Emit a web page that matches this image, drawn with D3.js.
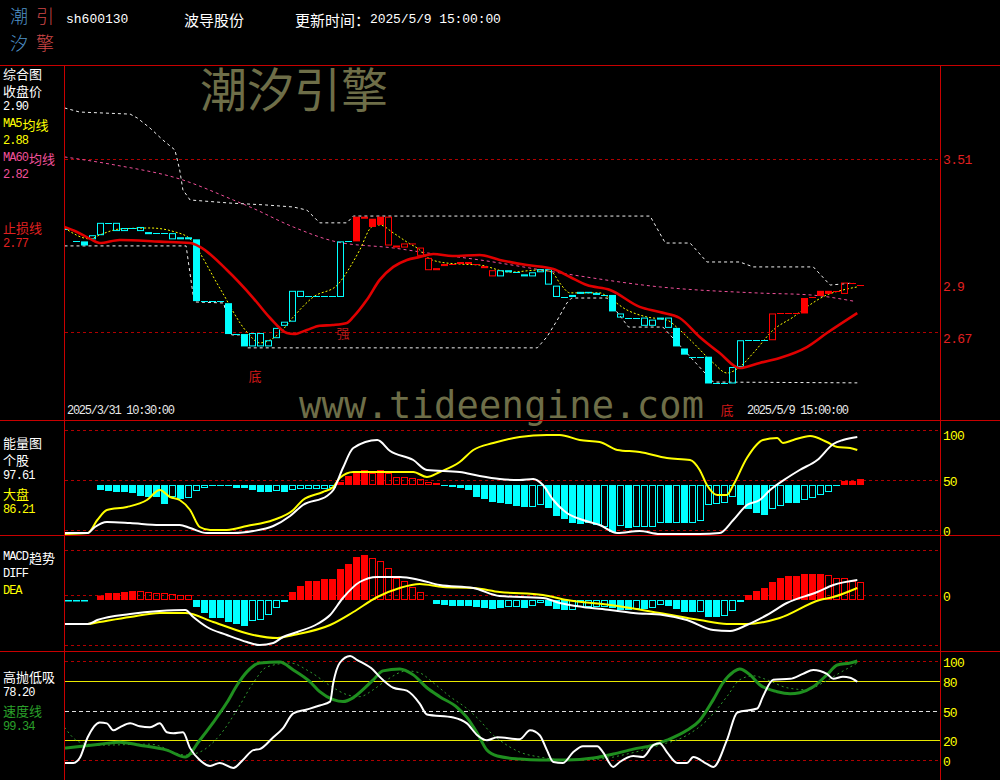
<!DOCTYPE html>
<html><head><meta charset="utf-8">
<script src="https://cdn.jsdelivr.net/npm/d3@7"></script>
<style>html,body{margin:0;padding:0;background:#000;}svg{display:block;}</style>
</head><body>
<svg id="c" width="1000" height="780"></svg>
<script>
// ---------------- DATA ----------------
const stockCode = "sh600130";
const stockName = "波导股份";
const updateTime = "2025/5/9 15:00:00";
const firstBarTime = "2025/3/31 10:30:00";
const lastBarTime = "2025/5/9 15:00:00";

// 60-minute bars: open / close
const barOpen = [3.17,3.11,3.11,3.12,3.14,3.20,3.16,3.16,3.175,3.16,
 3.155,3.15,3.15,3.12,3.12,3.13,3.12,2.82,2.82,2.82,
 2.81,2.66,2.66,2.60,2.60,2.60,2.64,2.70,2.72,2.84,
 2.845,2.845,2.845,2.845,2.84,3.11,3.11,3.22,3.18,3.19,
 3.23,3.08,3.10,3.095,3.08,3.03,2.98,3.00,3.00,3.00,
 3.00,3.00,2.98,2.97,2.94,2.96,2.96,2.94,2.94,2.96,
 2.975,2.895,2.84,2.85,2.855,2.86,2.85,2.85,2.85,2.76,
 2.74,2.74,2.74,2.70,2.73,2.74,2.69,2.59,2.55,2.55,
 2.55,2.42,2.42,2.42,2.50,2.63,2.63,2.63,2.63,2.76,
 2.76,2.76,2.76,2.835,2.845,2.855,2.87,2.855,2.91,2.90];
const barClose = [3.17,3.11,3.09,3.14,3.20,3.20,3.20,3.175,3.175,3.18,
 3.145,3.15,3.15,3.15,3.13,3.12,2.82,2.82,2.82,2.82,
 2.66,2.66,2.60,2.665,2.665,2.63,2.69,2.72,2.87,2.87,
 2.845,2.845,2.845,2.845,3.11,3.11,3.23,3.23,3.22,3.23,
 3.09,3.09,3.08,3.10,3.04,2.97,2.97,2.99,3.00,3.01,
 3.01,3.00,2.99,2.94,2.97,2.97,2.96,2.95,2.96,2.975,
 2.90,2.84,2.84,2.84,2.865,2.865,2.86,2.85,2.77,2.74,
 2.74,2.74,2.70,2.73,2.74,2.69,2.60,2.56,2.55,2.55,
 2.42,2.42,2.42,2.50,2.63,2.63,2.63,2.63,2.76,2.76,
 2.76,2.76,2.835,2.84,2.87,2.87,2.87,2.91,2.91,2.90];
// trend state per bar (1 = strong / red regime, 0 = weak / cyan regime)
const barTrend = [0,0,0,0,0,0,0,0,0,0, 0,0,0,0,0,0,0,0,0,0, 0,0,0,0,0,0,0,0,0,0,
 0,0,0,0,0,0,1,1,1,1, 1,1,1,1,1,1,1,1,1,1, 1,1,1,1,0,0,0,0,0,0,
 0,0,0,0,0,0,0,0,0,0, 0,0,0,0,0,0,0,0,0,0, 0,0,0,0,0,0,0,0,1,1,
 1,1,1,1,1,1,1,1,1,1];
// momentum-confirmed bar flag
const barSignal = [0,0,1,0,0,0,0,0,0,0, 1,0,0,0,0,1,1,0,0,0, 1,0,1,0,0,0,0,0,0,0,
 0,0,0,0,0,0,1,1,1,1, 0,1,0,1,0,0,0,0,0,1, 1,0,1,0,0,0,0,0,0,0,
 0,0,0,1,0,0,0,0,1,0, 0,0,0,0,0,0,1,1,0,0, 1,0,0,0,0,0,0,0,0,0,
 0,0,1,1,1,1,0,0,0,0];

// main panel lines [bar index, price]
const stopLine = [[-0.5,3.18],[1,3.157],[2.7,3.122],[3.9,3.102],[6.4,3.117],[11.4,3.109],[15.2,3.102],[16.4,3.084],[19.8,2.971],[23.1,2.835],[25.2,2.738],[27.3,2.665],[28.2,2.66],[29.8,2.68],[31.4,2.70],[33,2.704],[34.8,2.714],[35.6,2.743],[37.3,2.826],[38.9,2.923],[40.6,2.986],[42.3,3.02],[43.9,3.034],[45.6,3.049],[48,3.039],[51.4,3.044],[53.9,3.02],[57.3,2.995],[60.6,2.976],[62.7,2.937],[64.8,2.898],[67.7,2.874],[71.4,2.792],[73.9,2.767],[76.4,2.738],[78.9,2.646],[81.4,2.568],[83.9,2.495],[86.4,2.52],[88.9,2.544],[92.3,2.597],[94.8,2.665],[98.6,2.762]];
const ma5Line = [[-0.5,3.175],[2.7,3.122],[3.9,3.141],[6.4,3.17],[10.2,3.175],[13.3,3.156],[15.2,3.122],[15.6,3.102],[18.9,2.884],[22.3,2.67],[23.9,2.617],[26.4,2.665],[28.1,2.743],[30.6,2.84],[33.6,2.898],[35.2,2.986],[36.4,3.068],[37.9,3.18],[38.9,3.19],[40.6,3.151],[42.3,3.107],[43.9,3.068],[44.8,3.034],[46.4,3.01],[48.9,3.0],[51.4,2.995],[55.2,2.961],[58.9,2.971],[60.4,2.961],[61.4,2.908],[62.7,2.86],[66.4,2.86],[67.4,2.84],[69.8,2.777],[72.3,2.743],[74.8,2.728],[76.4,2.68],[78.1,2.617],[80.6,2.52],[82.3,2.471],[83.9,2.5],[85.6,2.568],[88.1,2.68],[90.6,2.743],[92.3,2.792],[94.8,2.85],[96.8,2.874],[98.6,2.889]];
const ma60Line = [[-0.5,3.52],[5.8,3.481],[13.9,3.413],[20.6,3.311],[22.7,3.277],[28.1,3.18],[33.6,3.107],[40.6,3.078],[44.8,3.054],[51.4,3.02],[61.4,2.957],[73.9,2.889],[86.4,2.859],[92.7,2.85],[98.1,2.82]];
const upperBand = [[-0.5,3.758],[1.4,3.738],[7.7,3.728],[8.6,3.709],[10.2,3.66],[11.8,3.602],[13.3,3.554],[13.9,3.457],[14.3,3.36],[15.2,3.311],[20.2,3.296],[24.6,3.287],[28.1,3.277],[29.8,3.262],[31.4,3.2],[34.8,3.2],[35.6,3.233],[72.7,3.233],[74.6,3.102],[77.7,3.102],[79.8,3.01],[83.9,3.01],[85.6,2.986],[93.1,2.986],[95.2,2.898],[98.1,2.908]];
const lowerBand = [[-0.5,3.088],[14.7,3.088],[15.7,2.816],[19.4,2.811],[20.4,2.656],[21.4,2.656],[22.4,2.593],[58.6,2.593],[59.8,2.646],[61.1,2.728],[62.3,2.811],[62.9,2.835],[67.3,2.835],[68.1,2.791],[70,2.694],[74.3,2.694],[80.6,2.427],[98.6,2.423]];
const priceGrid = [3.51, 2.67];
const markText = ["底","强","底"];
const markBar = [23.3, 34.3, 82.3];
const markPrice = [2.461, 2.67, 2.292];

// energy panel
const volBars = [null,null,null,null,40,39,38,38,37,34, 33,33,26,33,31,32,39,42,44,44,
 44,42,42,40,38,38,39,38,40,41, 41,41,41,42,48,54,58,60,57,60,
 57,53,53,52,51,48,47,44,43,42, 40,33,31,28,27,26,24,23,23,25,
 22,14,11,7,6,7,5,3,-2,4, 2,3,3,3,7,7,7,7,7,9,
 25,26,27,33,25,21,17,15,21,24, 27,27,30,32,35,38,45,49,49,51];
const volSignal = [0,0,0,0,1,1,1,1,1,1, 1,1,1,0,1,0,0,0,1,1, 1,1,1,1,1,1,0,1,0,0,
 0,0,0,0,1,1,1,1,0,1, 0,0,0,0,0,0,0,1,1,1, 1,1,1,1,1,1,1,1,0,0,
 1,1,1,1,1,1,1,0,1,0, 1,0,0,0,0,1,0,1,0,0, 0,0,0,0,1,1,1,1,0,0,
 1,1,0,0,0,0,1,1,1,1];
const volStock = [[-0.5,-3],[2.4,-3],[3.3,3],[4.8,8],[7.7,7],[11.4,5],[13.9,5],[15.2,2],[17.3,-3],[20.6,-3],[23.1,-1],[25.6,4],[27.7,14],[29.3,25],[32.3,34],[33.1,40],[34.3,62],[35.6,82],[38.6,90],[40.2,79],[43.1,70],[44.8,60],[48.9,58],[51.4,54],[53.9,51],[56.4,50],[58.1,51],[59.3,45],[60.6,30],[62.3,17],[64.3,10],[66.4,5],[68.6,-3],[71.4,-1],[73.9,-4],[78.9,-4],[81.4,-3],[83.1,10],[84.8,25],[86.4,30],[87.7,40],[89.8,52],[91.4,60],[93.6,70],[95.6,86],[96.8,90],[98.6,93]];
const volMarket = [[-0.5,-4],[2.4,-3],[3.6,10],[4.8,20],[7.3,23],[9.8,30],[11.4,40],[12.7,33],[13.9,30],[15.2,20],[16.4,3],[17.7,0],[19.8,0],[22.3,4],[25.6,10],[28.1,20],[29.3,30],[31.8,38],[33.1,43],[33.9,52],[35.6,58],[38.9,58],[43.1,58],[44.8,53],[46.4,58],[48.9,68],[50.6,80],[53.1,87],[56.4,93],[59.8,95],[61.4,95],[63.9,90],[66.4,88],[68.6,80],[71.4,78],[74.8,72],[77.7,70],[78.9,60],[79.8,45],[81.1,35],[82.3,35],[83.1,45],[84.8,72],[86.8,90],[88.6,92],[89.3,87],[90.6,90],[92.7,94],[94.8,88],[96.1,83],[97.7,82],[98.6,80]];
const volTicks = [100, 50, 0];

// MACD panel
const macdBars = [-0.002,-0.002,-0.002,null,0.009,0.014,0.014,0.016,0.018,0.018,
 0.016,0.014,0.014,0.012,0.010,0.010,-0.014,-0.026,-0.036,-0.036,
 -0.044,-0.048,-0.052,-0.042,-0.040,-0.030,-0.016,-0.004,0.016,0.028,
 0.038,0.038,0.042,0.042,0.062,0.072,0.086,0.090,0.084,0.078,
 0.064,0.044,0.038,0.026,0.016,null,-0.008,-0.010,-0.012,-0.012,
 -0.012,-0.014,-0.016,-0.018,-0.016,-0.014,-0.014,-0.016,-0.012,-0.006,
 -0.012,-0.018,-0.020,-0.020,-0.014,-0.014,-0.014,-0.014,-0.016,-0.020,
 -0.020,-0.018,-0.018,-0.016,-0.010,-0.012,-0.018,-0.024,-0.024,-0.024,
 -0.034,-0.034,-0.032,-0.022,-0.004,0.010,0.018,0.024,0.036,0.044,
 0.048,0.048,0.052,0.052,0.052,0.050,0.044,0.044,0.038,0.036];
const macdSignal = [1,1,1,0,1,1,1,1,1,0, 0,0,0,0,0,0,1,1,1,1, 1,1,1,0,0,0,0,0,1,1,
 1,1,1,1,1,1,1,1,0,0, 0,0,0,0,0,0,1,1,1,1, 1,1,1,1,1,0,0,1,0,0,
 1,1,1,0,0,0,0,0,1,1, 1,0,1,0,0,1,1,1,1,0, 1,1,0,0,1,1,1,1,1,1,
 1,1,1,1,1,0,0,0,0,0];
const diffLine = [[-0.5,-0.058],[2.4,-0.058],[3.6,-0.05],[7.7,-0.038],[11.4,-0.032],[14.6,-0.03],[15.6,-0.044],[17.3,-0.064],[19.8,-0.08],[22.3,-0.094],[23.9,-0.1],[25.6,-0.096],[26.8,-0.084],[28.6,-0.074],[31.1,-0.058],[32.7,-0.04],[34.3,-0.006],[36.4,0.026],[38.6,0.036],[41.4,0.036],[43.9,0.03],[46.4,0.02],[50.6,0.014],[53.9,-0.002],[59.3,-0.006],[61.4,-0.016],[64.3,-0.024],[67.7,-0.03],[70.6,-0.036],[74.3,-0.04],[77.3,-0.05],[80.6,-0.07],[82.7,-0.072],[84.8,-0.06],[87.3,-0.04],[89.8,-0.016],[93.6,0.006],[95.6,0.02],[98.6,0.03]];
const deaLine = [[-0.5,-0.058],[2.4,-0.058],[3.9,-0.054],[7.7,-0.044],[11.4,-0.036],[14.6,-0.036],[18.1,-0.054],[23.1,-0.08],[26.1,-0.086],[28.1,-0.08],[32.7,-0.06],[35.6,-0.034],[38.6,-0.004],[41.4,0.014],[43.9,0.022],[46.8,0.016],[50.6,0.014],[53.9,0.006],[59.3,0],[62.3,-0.01],[67.7,-0.02],[73.9,-0.036],[78.9,-0.05],[82.3,-0.058],[84.8,-0.058],[88.9,-0.046],[93.9,-0.01],[95.6,-0.004],[98.6,0.014]];
const macdGrid = [0.09, 0, -0.1];

// swing panel
const swingLine = [[-0.5,-3],[0.6,-3],[1.4,2],[2.4,23],[3.9,38],[4.8,37],[5.6,30],[6.4,33],[7.7,37],[8.9,34],[10.2,33],[11.4,37],[12.3,28],[13.1,27],[14.3,28],[15.2,12],[16.4,0],[17.7,-6],[18.9,-3],[20.6,-8],[21.8,0],[23.1,10],[23.9,11],[25.6,23],[26.8,32],[28.1,47],[29.8,51],[31.4,55],[32.7,59],[33.1,78],[33.9,98],[35.2,105],[36.1,101],[38.1,91],[38.9,84],[40.6,73],[42.3,70],[43.9,57],[44.8,46],[48.1,43],[49.8,37],[51.1,25],[52.3,20],[53.6,23],[56.4,21],[57.7,30],[58.9,25],[59.8,10],[60.6,-2],[61.8,-3],[63.1,8],[64.3,14],[66.1,14],[66.8,8],[68.1,-7],[68.9,-2],[70.6,4],[71.8,3],[73.1,15],[73.9,17],[74.8,8],[76.1,-3],[77.3,-3],[78.1,3],[79.8,-4],[80.6,-7],[82.3,20],[83.6,48],[86.1,52],[86.8,64],[88.1,81],[90.2,82],[91.8,87],[93.1,91],[94.8,87],[95.6,82],[96.8,84],[97.7,83],[98.6,79]];
const speedLine = [[-0.5,12],[3.9,16],[6.4,18],[8.9,15],[12.3,10],[14.6,3],[16.4,20],[18.1,38],[19.8,58],[21.1,76],[22.3,89],[23.9,98],[26.4,99],[28.1,91],[30.2,79],[31.4,69],[33.1,61],[34.3,59],[35.6,63],[36.8,71],[38.1,81],[39.3,90],[41.4,92],[43.1,86],[44.8,73],[46.4,64],[48.6,53],[49.8,43],[51.1,27],[52.3,10],[53.6,4],[56.4,1],[58.9,0],[62.3,0],[65.6,2],[68.1,6],[70.6,11],[73.1,15],[74.8,20],[77.3,30],[78.9,40],[80.6,61],[81.8,78],[83.1,89],[83.9,92],[85.2,86],[86.4,76],[88.6,69],[90.2,67],[91.4,68],[93.1,74],[94.8,86],[96.1,96],[97.7,98],[98.6,100]];
const speedSlow = [[-0.5,33],[1.4,18],[3.9,15],[10.2,16],[14.6,5],[16.4,8],[18.9,25],[21.1,51],[23.1,78],[24.8,94],[27.7,98],[30.2,89],[33.1,73],[34.8,66],[36.4,64],[38.1,71],[39.8,81],[42.3,90],[43.9,88],[45.6,78],[47.7,64],[49.8,52],[51.4,40],[53.1,25],[53.9,20],[56.4,8],[58.9,3],[62.3,0],[66.4,1],[69.8,6],[73.9,15],[77.3,25],[79.8,40],[82.3,64],[83.9,81],[85.6,85],[87.3,81],[89.8,73],[92.3,71],[94.3,78],[96.4,88],[98.6,98]];
const swingTicks = [100, 80, 50, 20, 0];

// legends
const mainLegend = ["综合图","收盘价","2.90","MA5均线","2.88","MA60均线","2.82"];
const stopLegend = ["止损线","2.77"];
const volLegend = ["能量图","个股","97.61","大盘","86.21"];
const macdLegend = ["MACD趋势","DIFF","DEA"];
const swingLegend = ["高抛低吸","78.20","速度线","99.34"];

// ---------------- DRAW ----------------
const svg = d3.select('#c');
const L = 64, R = 940;
const RED = '#ff0000', CYAN = '#00ffff', YEL = '#ffff00', PINK = '#f0509a',
      GRID = '#b00000', FRAME = '#c80000', GREEN = '#1f8f1f', WM = '#6e6e48';
const CJK = '"Noto Sans CJK SC", sans-serif', MONO = '"Liberation Mono", "DejaVu Sans Mono", monospace';

svg.append('rect').attr('width',1000).attr('height',780).attr('fill','#000');

const x = d3.scaleLinear().domain([0, 99]).range([68.5, 860.5]);
const yP = d3.scaleLinear().domain([2.67, 3.51]).range([332, 159]);
const yV = d3.scaleLinear().domain([0, 100]).range([530, 430]);
const yM = d3.scaleLinear().domain([0, 0.09]).range([595, 550]);
const yS = d3.scaleLinear().domain([0, 100]).range([760, 661]);

// mixed-script text: ASCII runs in a mono face, CJK runs in Noto Sans CJK, each run placed explicitly
function mixText(g, px, py, str, color, o = {}) {
  const cjk = o.cjk || 13, asc = o.asc || 12, adv = o.adv || 6.5;
  const t = g.append('text').attr('y', py).attr('fill', color).attr('dominant-baseline', 'central');
  const runs = str.match(/[\u0000-\u00ff]+|[^\u0000-\u00ff]+/g) || [];
  let cx = px;
  runs.forEach(r => {
    const a = /^[\u0000-\u00ff]/.test(r);
    const w = a ? r.length * adv : r.length * cjk;
    t.append('tspan').text(r).attr('x', cx).attr('font-family', a ? MONO : CJK)
      .attr('font-size', a ? asc : cjk)
      .attr('textLength', w).attr('lengthAdjust', 'spacing');
    cx += w;
  });
  return t;
}
function hline(y, color, dash, x1 = L + 1, x2 = R) {
  svg.append('line').attr('x1', x1).attr('x2', x2).attr('y1', Math.round(y) + 0.5).attr('y2', Math.round(y) + 0.5)
    .attr('stroke', color).attr('stroke-width', 1).attr('stroke-dasharray', dash || null);
}
function drawLine(data, ys, color, w, dash, curve) {
  svg.append('path').datum(data)
    .attr('d', d3.line().x(d => x(d[0])).y(d => ys(d[1])).curve(curve || d3.curveMonotoneX))
    .attr('fill', 'none').attr('stroke', color).attr('stroke-width', w)
    .attr('stroke-dasharray', dash || null).attr('stroke-linejoin', 'round');
}

// watermarks
svg.append('text').attr('x', 200).attr('y', 86).attr('dominant-baseline', 'central')
  .attr('font-family', CJK).attr('font-size', 47).attr('fill', WM).text('潮汐引擎');
svg.append('text').attr('x', 299).attr('y', 418)
  .attr('font-family', '"DejaVu Sans Mono", monospace').attr('font-size', 37).attr('fill', WM)
  .attr('textLength', 405).attr('lengthAdjust', 'spacing').text('www.tideengine.com');

// gridlines
priceGrid.forEach(v => hline(yP(v), GRID, '3,3'));
volTicks.forEach(v => hline(yV(v), GRID, '3,3'));
macdGrid.forEach(v => hline(yM(v), GRID, '3,3'));
swingTicks.forEach(v => {
  const c = (v === 80 || v === 20) ? '#e8e800' : (v === 50 ? '#e0e0e0' : GRID);
  const d = (v === 80 || v === 20) ? null : (v === 50 ? '4,3' : '3,3');
  hline(yS(v), c, d);
});

// main panel lines
drawLine(upperBand, yP, '#f0f0f0', 1, '3,3', d3.curveLinear);
drawLine(lowerBand, yP, '#f0f0f0', 1, '3,3', d3.curveLinear);
drawLine(ma60Line, yP, PINK, 1, '3,3');
drawLine(ma5Line, yP, YEL, 1, '2,2');

// candles
const candles = svg.append('g');
barOpen.forEach((o, i) => {
  const c = barClose[i], cx = x(i), col = barTrend[i] ? RED : CYAN;
  const y1 = yP(Math.max(o, c)), y2 = yP(Math.min(o, c));
  if (Math.abs(o - c) < 1e-9) {
    candles.append('rect').attr('x', cx - 3.5).attr('y', Math.round(y1)).attr('width', 7).attr('height', 1).attr('fill', col);
  } else if (barSignal[i]) {
    candles.append('rect').attr('x', cx - 3.5).attr('y', y1).attr('width', 7).attr('height', Math.max(1, y2 - y1)).attr('fill', col);
  } else {
    candles.append('rect').attr('x', cx - 3).attr('y', y1 + 0.5).attr('width', 6).attr('height', Math.max(0.5, y2 - y1 - 1))
      .attr('fill', 'none').attr('stroke', col).attr('stroke-width', 1);
  }
});
drawLine(stopLine, yP, '#e00000', 2.6);

// marks
markText.forEach((t, i) => {
  svg.append('text').attr('x', x(markBar[i])).attr('y', yP(markPrice[i])).attr('text-anchor', 'middle')
    .attr('dominant-baseline', 'central').attr('font-family', CJK).attr('font-size', 13)
    .attr('fill', i === 1 ? '#b81818' : '#d01818').text(t);
});

// date labels
mixText(svg, 67, 411, firstBarTime, '#e8e8e8', { asc: 12, adv: 6 });
mixText(svg, 747, 411, lastBarTime, '#e8e8e8', { asc: 12, adv: 6 });

// energy bars
const vb = svg.append('g');
const vBase = yV(45);
volBars.forEach((v, i) => {
  if (v === null) return;
  const col = v > 45 ? RED : CYAN, cx = x(i);
  const yv = yV(v), top = Math.min(yv, vBase), h = Math.abs(yv - vBase);
  if (h < 1.5) { vb.append('rect').attr('x', cx - 3.5).attr('y', Math.round(vBase)).attr('width', 7).attr('height', 1).attr('fill', col); return; }
  if (volSignal[i]) vb.append('rect').attr('x', cx - 3.5).attr('y', top).attr('width', 7).attr('height', h).attr('fill', col);
  else vb.append('rect').attr('x', cx - 3).attr('y', top + 0.5).attr('width', 6).attr('height', h - 1).attr('fill', 'none').attr('stroke', col);
});
drawLine(volMarket, yV, YEL, 2);
drawLine(volStock, yV, '#ffffff', 2);

// MACD bars
const mb = svg.append('g');
const mBase = yM(0) + 5;
macdBars.forEach((v, i) => {
  if (v === null) return;
  const col = v > 0 ? RED : CYAN, cx = x(i);
  const ye = yM(v) + 5, top = Math.min(ye, mBase), h = Math.abs(ye - mBase);
  if (h < 1.5) { mb.append('rect').attr('x', cx - 3.5).attr('y', Math.round(mBase)).attr('width', 7).attr('height', 1.5).attr('fill', col); return; }
  if (macdSignal[i]) mb.append('rect').attr('x', cx - 3.5).attr('y', top).attr('width', 7).attr('height', h).attr('fill', col);
  else mb.append('rect').attr('x', cx - 3).attr('y', top + 0.5).attr('width', 6).attr('height', h - 1).attr('fill', 'none').attr('stroke', col);
});
drawLine(deaLine, yM, YEL, 2);
drawLine(diffLine, yM, '#ffffff', 2);

// swing panel
drawLine(speedSlow, yS, '#2f9a2f', 1, '2,3');
drawLine(speedLine, yS, GREEN, 3);
drawLine(swingLine, yS, '#ffffff', 2);

// frame
[65, 420, 535, 651].forEach(y => hline(y, FRAME, null, 0, 1000));
[L, R].forEach(xx => svg.append('line').attr('x1', xx + 0.5).attr('x2', xx + 0.5).attr('y1', 65).attr('y2', 780).attr('stroke', FRAME));

// right axis labels
const axOpt = { asc: 13, adv: 7.3 };
priceGrid.forEach((v, k) => mixText(svg, 943, yP(v) + (k === priceGrid.length - 1 ? 7 : 1), d3.format('.2f')(v), '#e02020', axOpt));
mixText(svg, 943, yP(barClose[barClose.length - 1]) + 2, d3.format('~g')(barClose[barClose.length - 1]), '#e02020', axOpt);
volTicks.forEach((v, k) => mixText(svg, 943, yV(v) + (k === 0 ? 6 : 2), String(v), YEL, axOpt));
mixText(svg, 943, yM(0) + 2, '0', YEL, axOpt);
swingTicks.forEach(v => mixText(svg, 943, yS(v) + 2, String(v), YEL, axOpt));

// left legends
const mainCols = ['#ffffff', '#ffffff', '#ffffff', YEL, YEL, PINK, PINK];
mainLegend.forEach((t, i) => mixText(svg, 3, 73 + i * 17, t, mainCols[i]));
stopLegend.forEach((t, i) => mixText(svg, 3, 227 + i * 17, t, '#e02020'));
const volCols = ['#ffffff', '#ffffff', '#ffffff', YEL, YEL];
volLegend.forEach((t, i) => mixText(svg, 3, 442 + i * 17, t, volCols[i]));
const macdCols = ['#ffffff', '#ffffff', YEL];
macdLegend.forEach((t, i) => mixText(svg, 3, 557 + i * 17, t, macdCols[i]));
const swCols = ['#ffffff', '#ffffff', '#2aa02a', '#2aa02a'];
swingLegend.forEach((t, i) => mixText(svg, 3, 676 + i * 17, t, swCols[i]));

// header logo: 2x2 block of glyphs
const logoChars = ['潮', '引', '汐', '擎'];
const logoCol = ['#4f93c8', '#d04848', '#4f93c8', '#d04848'];
logoChars.forEach((ch, k) => svg.append('text').attr('text-anchor', 'middle').attr('dominant-baseline', 'central')
  .attr('font-family', CJK).attr('font-weight', 300).attr('font-size', 18)
  .attr('x', k % 2 ? 45 : 19).attr('y', k < 2 ? 15 : 42).attr('fill', logoCol[k]).text(ch));
mixText(svg, 66, 19, stockCode, '#ffffff', { asc: 13, adv: 7.8 });
mixText(svg, 184, 19, stockName, '#ffffff', { cjk: 15 });
mixText(svg, 295, 19, '更新时间：' + updateTime, '#ffffff', { cjk: 15, asc: 13, adv: 7.7 });
</script>
</body></html>
